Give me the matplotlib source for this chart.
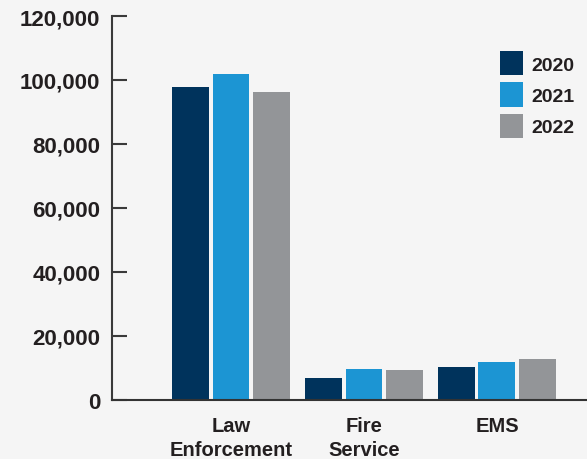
import numpy as np
import matplotlib.pyplot as plt
from matplotlib.ticker import FuncFormatter

# data
categories = ["Law\nEnforcement", "Fire\nService", "EMS"]
years = ["2020", "2021", "2022"]
v2020 = [97700, 6800, 10200]
v2021 = [101800, 9600, 11800]
v2022 = [96200, 9300, 12700]
yticks = [0, 20000, 40000, 60000, 80000, 100000, 120000]

colors = ["#00335c", "#1c95d3", "#939598"]
series = [v2020, v2021, v2022]

plt.rcParams["font.family"] = ["Liberation Sans", "DejaVu Sans"]

fig = plt.figure(figsize=(5.87, 4.6), dpi=100, facecolor="#f5f5f5")
ax = fig.add_axes([112 / 587, 59.3 / 460, 1 - 112 / 587, (400.7 - 17) / 460])
ax.set_facecolor("none")

x = np.arange(len(categories))
width = 0.278
step = 0.305
for i, (vals, c) in enumerate(zip(series, colors)):
    ax.bar(x + (i - 1) * step, vals, width, color=c, label=years[i], zorder=2)

ax.set_xlim(-0.895, 2.677)
ax.set_ylim(0, 120000)
ax.set_yticks(yticks)
ax.yaxis.set_major_formatter(FuncFormatter(lambda v, p: f"{int(v):,}"))
ax.set_xticks(x)
ax.set_xticklabels(categories, fontweight="bold", fontsize=14.5, color="#231f20",
                   linespacing=1.3)

for s in ["top", "right"]:
    ax.spines[s].set_visible(False)
ax.spines["left"].set_color("#3a3a3a")
ax.spines["left"].set_linewidth(1.5)
ax.spines["bottom"].set_color("#333333")
ax.spines["bottom"].set_linewidth(1.5)
ax.spines["bottom"].set_zorder(3)

ax.tick_params(axis="y", direction="in", length=11, width=1.5, color="#3a3a3a",
               pad=8.5, labelsize=16, labelcolor="#231f20")
ax.tick_params(axis="x", length=0, pad=12)
for t in ax.get_yticklabels():
    t.set_fontweight("bold")

leg = ax.legend(loc="upper left", bbox_to_anchor=(500 / 587, 1 - 52 / 460),
                bbox_transform=fig.transFigure, frameon=False, borderpad=0,
                fontsize=14, handlelength=1.18, handleheight=1.55,
                handletextpad=0.45, labelspacing=0.36, borderaxespad=0)
for t in leg.get_texts():
    t.set_fontweight("bold")
    t.set_color("#231f20")

fig.savefig("out.png", dpi=100, facecolor=fig.get_facecolor())
